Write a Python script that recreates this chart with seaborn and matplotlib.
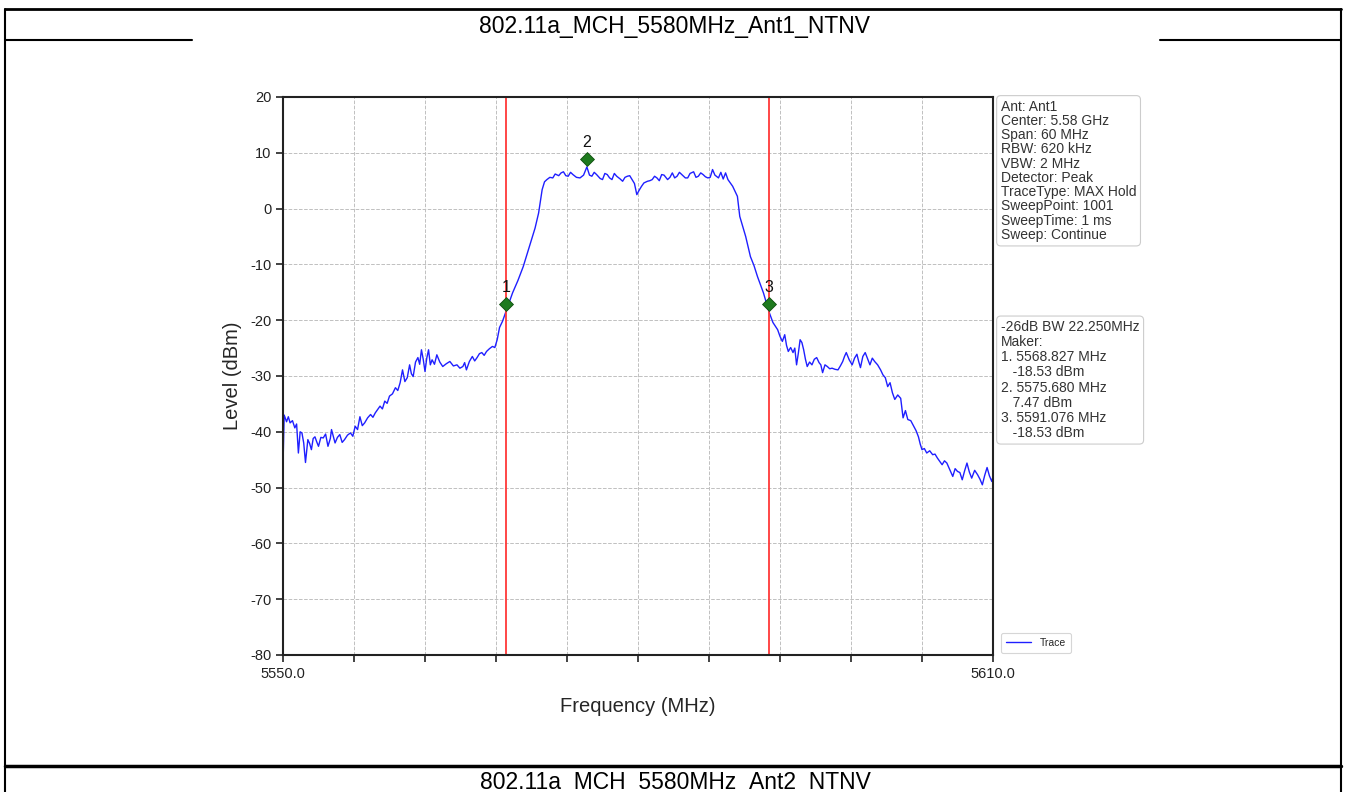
import numpy as np
import pandas as pd
import matplotlib
matplotlib.use("Agg")
import matplotlib.pyplot as plt
import seaborn as sns

# данные спектра
freq_mhz = [
    5550.0, 5550.1, 5550.3, 5550.45, 5550.6, 5550.8, 5551.0, 5551.15, 5551.3, 5551.45,
    5551.6, 5551.75, 5551.9, 5552.1, 5552.25, 5552.4, 5552.55, 5552.7, 5552.85, 5553.0,
    5553.2, 5553.4, 5553.6, 5553.8, 5554.0, 5554.1, 5554.25, 5554.4, 5554.6, 5554.8,
    5555.0, 5555.2, 5555.45, 5555.7, 5555.9, 5556.1, 5556.3, 5556.5, 5556.7, 5556.9,
    5557.15, 5557.4, 5557.6, 5557.8, 5558.0, 5558.2, 5558.4, 5558.6, 5558.8, 5559.0,
    5559.25, 5559.5, 5559.7, 5559.9, 5560.1, 5560.3, 5560.5, 5560.7, 5560.85, 5561.0,
    5561.2, 5561.4, 5561.55, 5561.7, 5561.85, 5562.0, 5562.15, 5562.3, 5562.45, 5562.6,
    5562.8, 5563.0, 5563.25, 5563.5, 5563.8, 5564.1, 5564.4, 5564.7, 5564.95, 5565.2,
    5565.35, 5565.5, 5565.75, 5566.0, 5566.2, 5566.4, 5566.6, 5566.8, 5567.0, 5567.2,
    5567.45, 5567.7, 5567.9, 5568.1, 5568.3, 5568.55, 5568.827,
    5569.1, 5569.4, 5569.85, 5570.3, 5570.65, 5571.0, 5571.3, 5571.6, 5571.9, 5572.1,
    5572.3, 5572.55, 5572.8, 5573.0, 5573.3, 5573.5, 5573.7, 5573.9, 5574.1, 5574.3,
    5574.5, 5574.8, 5575.1, 5575.4, 5575.68, 5575.9, 5576.1, 5576.3, 5576.5, 5576.8,
    5577.0, 5577.2, 5577.4, 5577.6, 5577.8, 5578.0, 5578.2, 5578.5, 5578.7, 5578.9,
    5579.1, 5579.3, 5579.5, 5579.7, 5579.9, 5580.1, 5580.3, 5580.5, 5580.8, 5581.0,
    5581.2, 5581.4, 5581.6, 5581.8, 5582.0, 5582.2, 5582.5, 5582.7, 5582.9, 5583.1,
    5583.3, 5583.5, 5583.7, 5584.0, 5584.2, 5584.4, 5584.7, 5584.9, 5585.1, 5585.3,
    5585.5, 5585.7, 5585.9, 5586.1, 5586.3, 5586.5, 5586.8, 5587.0, 5587.2, 5587.4,
    5587.6, 5588.0, 5588.4, 5588.6, 5589.1, 5589.5, 5589.8, 5590.1, 5590.6, 5591.076,
    5591.4, 5591.8, 5592.0, 5592.2, 5592.4, 5592.55, 5592.7, 5592.9, 5593.1, 5593.25,
    5593.4, 5593.55, 5593.7, 5593.85, 5594.0, 5594.15, 5594.3, 5594.5, 5594.7, 5594.9,
    5595.1, 5595.3, 5595.45, 5595.6, 5595.8, 5596.0, 5596.2, 5596.4, 5596.65, 5596.9,
    5597.1, 5597.3, 5597.45, 5597.6, 5597.85, 5598.1, 5598.3, 5598.5, 5598.65, 5598.8,
    5599.0, 5599.2, 5599.4, 5599.6, 5599.8, 5600.0, 5600.25, 5600.5, 5600.7, 5600.9,
    5601.1, 5601.3, 5601.5, 5601.7, 5601.95, 5602.2, 5602.4, 5602.6, 5602.8, 5603.05,
    5603.3, 5603.5, 5603.7, 5603.85, 5604.0, 5604.2, 5604.4, 5604.65, 5604.9, 5605.1,
    5605.3, 5605.5, 5605.7, 5605.9, 5606.1, 5606.35, 5606.6, 5606.8, 5607.0, 5607.2,
    5607.4, 5607.6, 5607.8, 5608.0, 5608.2, 5608.45, 5608.7, 5608.9, 5609.1, 5609.3,
    5609.5, 5609.7, 5609.9, 5610.0]
level_dbm = [
    -46.0, -37.0, -38.2, -37.3, -38.4, -38.0, -39.3, -38.6, -43.8, -40.0,
    -40.2, -42.0, -45.5, -41.4, -42.1, -43.2, -41.2, -40.9, -41.8, -42.6,
    -41.0, -41.1, -40.4, -42.6, -41.2, -39.6, -40.8, -42.0, -41.0, -40.5,
    -41.9, -41.4, -40.6, -40.2, -40.8, -39.0, -39.6, -37.3, -38.9, -38.4,
    -37.5, -36.9, -37.4, -36.6, -36.0, -35.4, -35.9, -34.5, -34.9, -33.6,
    -33.2, -32.1, -32.6, -31.2, -28.9, -31.0, -30.3, -28.0, -29.6, -30.1,
    -27.5, -26.7, -27.9, -25.3, -27.0, -29.2, -26.8, -25.3, -28.0, -27.1,
    -27.9, -26.2, -27.5, -28.3, -27.8, -27.4, -28.2, -28.0, -28.6, -28.3,
    -27.6, -28.9, -27.4, -26.5, -27.3, -26.7, -26.0, -25.8, -26.3, -25.6,
    -25.1, -24.7, -24.9, -23.5, -21.3, -20.2, -18.53,
    -16.9, -15.1, -12.9, -10.4, -8.0, -5.6, -3.5, -0.8, 3.4, 4.8,
    5.2, 5.6, 5.5, 6.2, 5.9, 6.4, 6.6, 5.9, 5.8, 6.5,
    6.1, 5.6, 5.5, 6.0, 7.47, 6.0, 5.8, 6.5, 6.1, 5.4,
    5.2, 6.3, 6.1, 5.5, 5.2, 6.3, 5.8, 5.3, 4.9, 5.6,
    5.8, 5.9, 5.2, 4.5, 2.5, 3.3, 4.0, 4.6, 4.9, 5.0,
    5.2, 5.8, 5.5, 5.0, 6.1, 6.0, 5.2, 5.6, 6.4, 5.5,
    5.8, 6.5, 6.1, 5.5, 5.5, 6.3, 6.6, 5.6, 5.8, 6.4,
    6.1, 5.7, 5.5, 5.6, 7.0, 6.0, 5.5, 6.5, 5.3, 6.4,
    5.2, 4.0, 2.2, -1.4, -5.0, -8.6, -10.2, -12.2, -15.1, -18.53,
    -20.4, -21.7, -22.9, -23.8, -22.6, -24.5, -25.6, -24.9, -25.8, -25.0,
    -28.0, -25.9, -23.5, -24.0, -25.3, -27.0, -28.3, -27.5, -28.0, -27.0,
    -26.7, -27.6, -28.0, -29.4, -28.0, -28.3, -28.7, -28.6, -28.8, -28.9,
    -28.2, -27.4, -26.5, -25.8, -27.1, -28.0, -26.8, -26.1, -27.4, -28.5,
    -26.5, -25.8, -26.9, -28.0, -26.8, -27.4, -28.0, -28.9, -29.8, -30.3,
    -31.9, -31.2, -33.0, -34.2, -33.4, -34.0, -37.5, -36.2, -37.8, -38.0,
    -39.0, -39.8, -40.9, -42.2, -43.2, -43.0, -43.8, -43.4, -44.1, -44.0,
    -44.7, -45.3, -45.9, -45.2, -45.6, -46.8, -48.0, -46.6, -47.1, -47.3,
    -48.6, -47.0, -45.6, -47.2, -48.3, -46.9, -47.7, -48.5, -49.5, -47.8,
    -46.4, -47.9, -48.9, -48.0]

marker_freq = [5568.827, 5575.680, 5591.076]
marker_level = [-18.53, 7.47, -18.53]
marker_names = ["1", "2", "3"]
bw_lines = [5568.827, 5591.076]

info_lines = ["Ant: Ant1", "Center: 5.58 GHz", "Span: 60 MHz", "RBW: 620 kHz", "VBW: 2 MHz",
              "Detector: Peak", "TraceType: MAX Hold", "SweepPoint: 1001",
              "SweepTime: 1 ms", "Sweep: Continue"]
result_lines = ["-26dB BW 22.250MHz", "Maker:", "1. 5568.827 MHz", "   -18.53 dBm",
                "2. 5575.680 MHz", "   7.47 dBm", "3. 5591.076 MHz", "   -18.53 dBm"]

title_top = "802.11a_MCH_5580MHz_Ant1_NTNV"
title_bottom = "802.11a_MCH_5580MHz_Ant2_NTNV"

sns.set_style("ticks")
plt.rcParams['font.family'] = ['Liberation Sans', 'DejaVu Sans']
plt.rcParams['axes.unicode_minus'] = False

fig = plt.figure(figsize=(13.46, 7.92), dpi=100)

# фон с рамкой таблицы (в пикселях)
bg = fig.add_axes([0, 0, 1, 1])
bg.set_xlim(0, 1346)
bg.set_ylim(792, 0)
bg.axis("off")
bg.plot([5, 1341], [9, 9], color="black", lw=2)
bg.plot([5, 5], [9, 792], color="black", lw=1.5)
bg.plot([1341, 1341], [9, 792], color="black", lw=1.5)
bg.plot([5, 192], [40, 40], color="black", lw=1.5)
bg.plot([1160, 1341], [40, 40], color="black", lw=1.5)
bg.plot([5, 1341], [766, 766], color="black", lw=2.5)
bg.text(675, 26, title_top, ha="center", va="center", fontsize=16.5, color="black")
bg.text(675, 783, title_bottom, ha="center", va="center", fontsize=16.5, color="black")

ax = fig.add_axes([283 / 1346, 1 - 655 / 792, 710 / 1346, 558 / 792])
df = pd.DataFrame({"Frequency": freq_mhz, "Level": level_dbm})
sns.lineplot(data=df, x="Frequency", y="Level", ax=ax, color="#1f1fff", lw=1.0,
             sort=False, estimator=None, label="Trace")

for f in bw_lines:
    ax.axvline(f, color="#ff3838", lw=1.3)

# маркеры рисуются чуть выше точки
mk = pd.DataFrame({"f": marker_freq, "l": [v + 1.5 for v in marker_level]})
sns.scatterplot(data=mk, x="f", y="l", ax=ax, marker="D", s=50, color="#1e7a1e",
                edgecolor="#0f4f0f", linewidth=0.6, zorder=5, legend=False)
for f, v, n in zip(marker_freq, marker_level, marker_names):
    ax.text(f, v + 3.0, n, ha="center", va="bottom", fontsize=11.5, color="#111111")

ax.set_xlim(5550, 5610)
ax.set_ylim(-80, 20)
xt = np.arange(5550, 5611, 6)
ax.set_xticks(xt)
ax.set_xticklabels(["5550.0"] + [""] * (len(xt) - 2) + ["5610.0"])
ax.set_yticks(np.arange(-80, 21, 10))
ax.tick_params(axis="both", labelsize=10.5, length=5, width=1.2, colors="#222222")
ax.grid(True, ls="--", lw=0.7, color="#c0c0c0")
for s in ax.spines.values():
    s.set_visible(True)
    s.set_linewidth(1.5)
    s.set_color("#222222")
ax.set_xlabel("Frequency (MHz)", fontsize=14.5, labelpad=12)
ax.set_ylabel("Level (dBm)", fontsize=14.5, labelpad=6)

leg = ax.legend(loc="lower left", bbox_to_anchor=(1.004, -0.006), fontsize=7.5,
                frameon=True, handlelength=2.4, borderpad=0.5)
leg.get_frame().set_edgecolor("#cccccc")
leg.get_frame().set_linewidth(0.8)

ax.text(1.011, 0.995, "\n".join(info_lines), transform=ax.transAxes, va="top", ha="left",
        fontsize=10, color="#333333", linespacing=1.02,
        bbox=dict(boxstyle="round,pad=0.3", fc="white", ec="#cccccc", lw=0.8))
ax.text(1.011, 0.6, "\n".join(result_lines), transform=ax.transAxes, va="top", ha="left",
        fontsize=10, color="#333333", linespacing=1.10,
        bbox=dict(boxstyle="round,pad=0.3", fc="white", ec="#cccccc", lw=0.8))

fig.savefig("out.png", dpi=100)
